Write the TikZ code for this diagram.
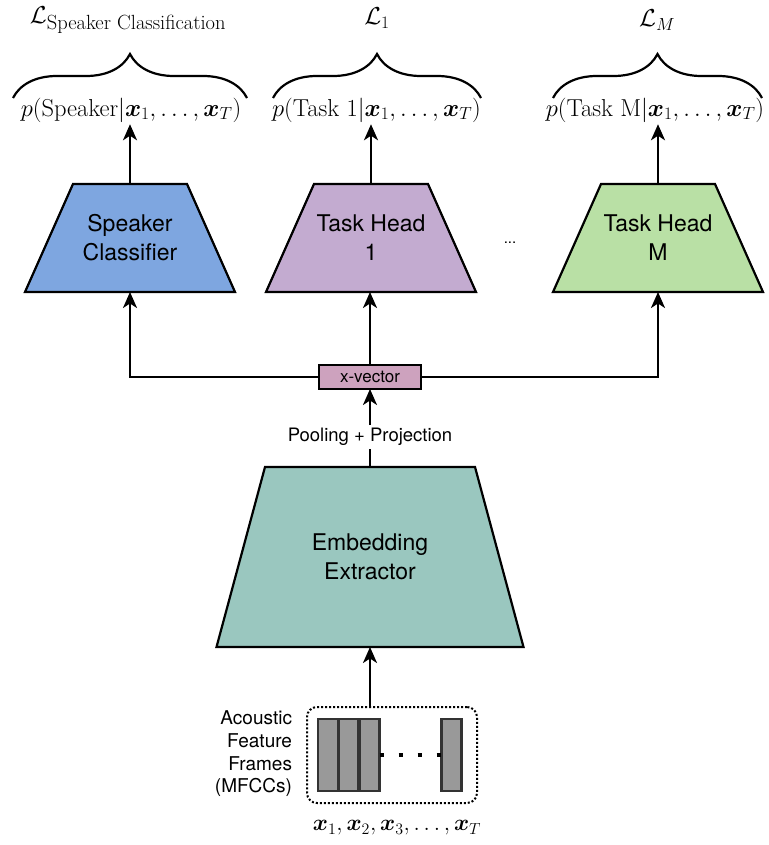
\RequirePackage{fix-cm}
\documentclass[tikz,border=0pt]{standalone}
\usepackage{amsmath}
\usepackage{fontspec}
\setsansfont{TeX Gyre Heros}
\usetikzlibrary{arrows.meta,decorations.pathreplacing,backgrounds}

\definecolor{spkblue}{HTML}{7EA6E0}
\definecolor{taskpurple}{HTML}{C3ABD0}
\definecolor{taskgreen}{HTML}{B9E0A5}
\definecolor{embteal}{HTML}{9AC7BF}
\definecolor{xvecpink}{HTML}{CDA2BE}
\definecolor{framegray}{HTML}{999999}

\DeclareMathSizes{24.5}{24.5}{17.5}{12.5}
\DeclareMathSizes{23}{23}{16}{11.5}

\newcommand{\vx}{\boldsymbol{x}}
% trapezoid outline around a named box node: #1 node, #2 top inset, #3 fill
\newcommand{\drawtrap}[3]{%
  \draw[line width=2.2pt, fill=#3, line join=miter]
    ([xshift=#2]#1.north west) -- ([xshift=-#2]#1.north east)
    -- (#1.south east) -- (#1.south west) -- cycle;}

\begin{document}
\begin{tikzpicture}[x=1pt,y=-1pt,
  every node/.style={inner sep=0pt, outer sep=0pt},
  wire/.style={line width=2.2pt, draw=black},
  arrow/.style={wire, -{Stealth[length=16pt,width=14pt,inset=4.5pt]}},
  blockbox/.style={rectangle, align=center,
    font=\sffamily\fontsize{23}{29}\selectfont},
  headbox/.style={blockbox, minimum width=210pt, minimum height=108pt},
  mathlbl/.style={font=\fontsize{24.5}{29}\selectfont},
  bracestyle/.style={wire, decorate, decoration={brace, amplitude=44pt}},
  frame/.style={draw=black!80, line width=2.2pt, fill=framegray,
    minimum width=20pt, minimum height=72pt}
]
\useasboundingbox (0,0) rectangle (768,845);

% loss labels and braces
\node[mathlbl] (lspk) at (128,20)
  {$\mathcal{L}_{\text{\fontsize{20.5}{23}\selectfont Speaker Classification}}$};
\node[mathlbl] (lone) at (377,18) {$\mathcal{L}_1$};
\node[mathlbl] (lm)   at (657,20) {$\mathcal{L}_M$};

\draw[bracestyle] (13,98) -- (247,98);
\draw[bracestyle] (273,98) -- (481,98);
\draw[bracestyle] (553,98) -- (762,98);

% output distributions
\node[mathlbl, inner sep=2pt] (pspk) at (131,110) {$p(\text{Speaker}|\vx_1,\ldots,\vx_T)$};
\node[mathlbl, inner sep=2pt] (pone) at (376.5,110) {$p(\text{Task 1}|\vx_1,\ldots,\vx_T)$};
\node[mathlbl, inner sep=2pt] (pm)   at (655,110) {$p(\text{Task M}|\vx_1,\ldots,\vx_T)$};

% heads
\node[headbox] (spk)  at (130,238) {Speaker\\Classifier};
\node[headbox] (tone) at (371,238) {Task Head\\1};
\node[headbox] (tm)   at (658,238) {Task Head\\M};
\node[font=\sffamily\fontsize{15}{18}\selectfont] (hdots) at (510,243) {...};

% embedding
\node[draw, line width=2.2pt, fill=xvecpink, minimum width=102pt, minimum height=24pt,
  font=\sffamily\fontsize{17}{20}\selectfont] (xvec) at (370,377) {x-vector};
\node[blockbox, minimum width=307pt, minimum height=180pt] (emb) at (370,557) {Embedding\\Extractor};
\node[inner sep=3pt, font=\sffamily\fontsize{18.5}{20}\selectfont] (pool) at (370,437)
  {Pooling + Projection};

\begin{scope}[on background layer]
  \drawtrap{spk}{48pt}{spkblue}
  \drawtrap{tone}{48pt}{taskpurple}
  \drawtrap{tm}{48pt}{taskgreen}
  \drawtrap{emb}{48.5pt}{embteal}
\end{scope}

% input frames
\node[draw, line width=2pt, dash pattern=on 2pt off 2pt, rounded corners=10pt,
  minimum width=170pt, minimum height=96pt] (frames) at (392,755) {};
\node[frame] (f1) at (328,755) {};
\node[frame] (f2) at (348.5,755) {};
\node[frame] (f3) at (369.5,755) {};
\node[frame] (fT) at (451.5,755) {};
\draw[line width=4pt, dash pattern=on 4pt off 15pt] (f3.east) -- (fT.west);

\node[anchor=east, align=right, font=\sffamily\fontsize{19}{22.7}\selectfont] (lblin) at (292,754)
  {Acoustic\\Feature\\Frames\\(MFCCs)};
\node[font=\fontsize{23}{28}\selectfont] (xs) at (397,828) {$\vx_1,\vx_2,\vx_3,\ldots,\vx_T$};

% connectors
\draw[arrow] (frames.north -| emb.south) -- (emb.south);
\draw[wire] (emb.north) -- (pool.south);
\draw[arrow] (pool.north) -- (xvec.south);
\draw[arrow] (xvec.west) -| (spk.south);
\draw[arrow] (xvec.east) -| (tm.south);
\draw[arrow] (xvec.north) -- (xvec.north |- tone.south);
\draw[arrow] (spk.north) -- (spk.north |- pspk.south);
\draw[arrow] (tone.north) -- (tone.north |- pone.south);
\draw[arrow] (tm.north) -- (tm.north |- pm.south);
\end{tikzpicture}
\end{document}
